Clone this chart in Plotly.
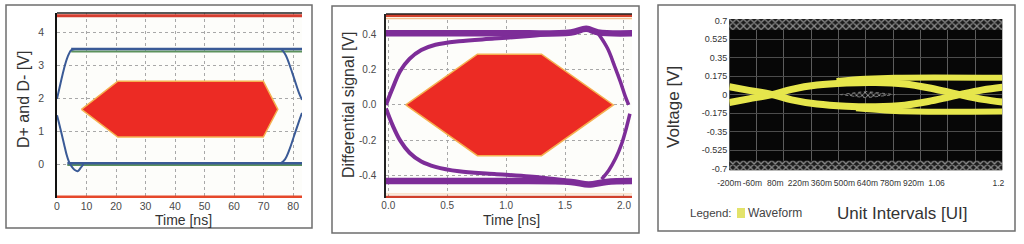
import plotly.graph_objects as go

W, H = 1024, 244

def px_x(p):
    return p / W

def px_y(p):
    return 1 - p / H

# ---------------- Panel 1 data (USB full-speed style eye) ----------------
p1_xticks = [0, 10, 20, 30, 40, 50, 60, 70, 80]
p1_yticks = [0, 1, 2, 3, 4]
p1_mask_x = [8.3, 20.6, 69.9, 74.8, 69.9, 20.6, 8.3]
p1_mask_y = [1.66, 2.51, 2.51, 1.66, 0.82, 0.82, 1.66]
p1_limit_top = 4.5
p1_limit_bottom = -1.0
p1_hi_x = [4.8, 83]
p1_hi_blue = [3.49, 3.49]
p1_hi_green = [3.41, 3.41]
p1_lo_x = [3.5, 83]
p1_lo_blue = [0.02, 0.02]
p1_lo_green = [-0.03, -0.03]
p1_riseL_x = [0, 1.2, 2.4, 3.6, 4.8, 6.0]
p1_riseL_y = [1.98, 2.45, 2.9, 3.25, 3.45, 3.49]
p1_fallL_x = [0, 0.8, 1.6, 2.4, 3.2, 4.0, 5.0, 6.0, 7.0, 8.0, 9.0]
p1_fallL_y = [1.48, 1.2, 0.9, 0.6, 0.3, 0.08, -0.08, -0.18, -0.22, -0.12, 0.0]
p1_fallR_x = [76.0, 77.5, 79.0, 80.5, 82.0, 83.0]
p1_fallR_y = [3.49, 3.3, 2.95, 2.55, 2.15, 1.95]
p1_riseR_x = [75.8, 77.3, 78.8, 80.3, 81.8, 83.0]
p1_riseR_y = [0.02, 0.15, 0.45, 0.85, 1.25, 1.55]

# ---------------- Panel 2 data (differential eye) ----------------
p2_xticks = [0.0, 0.5, 1.0, 1.5, 2.0]
p2_xtext = ["0.0", "0.5", "1.0", "1.5", "2.0"]
p2_yticks = [-0.4, -0.2, 0.0, 0.2, 0.4]
p2_ytext = ["-0.4", "-0.2", "0.0", "0.2", "0.4"]
p2_mask_x = [0.148, 0.756, 1.30, 1.91, 1.30, 0.756, 0.148]
p2_mask_y = [0.0, 0.287, 0.287, 0.0, -0.287, -0.287, 0.0]
p2_limit_top = 0.505
p2_limit_top_inner = 0.488
p2_limit_bottom = -0.52
p2_limit_bottom_inner = -0.503
p2_hi_x = [-0.02, 1.0, 1.55, 1.68, 1.78, 2.07]
p2_hi_y = [0.405, 0.405, 0.41, 0.43, 0.41, 0.405]
p2_lo_x = [-0.02, 1.0, 1.55, 1.7, 1.85, 2.07]
p2_lo_y = [-0.43, -0.43, -0.435, -0.45, -0.435, -0.43]
p2_up_x = [-0.02, 0.04, 0.1, 0.18, 0.28, 0.4, 0.6, 0.9, 1.2, 1.45]
p2_up_y = [0.0, 0.1, 0.19, 0.26, 0.31, 0.34, 0.36, 0.375, 0.39, 0.405]
p2_dn_x = [-0.02, 0.04, 0.1, 0.18, 0.28, 0.4, 0.6, 0.9, 1.2, 1.5]
p2_dn_y = [-0.02, -0.12, -0.2, -0.27, -0.32, -0.35, -0.375, -0.39, -0.405, -0.425]
p2_fallR_x = [1.78, 1.86, 1.92, 1.97, 2.01, 2.04]
p2_fallR_y = [0.405, 0.32, 0.22, 0.13, 0.05, 0.0]
p2_riseR_x = [2.05, 2.02, 1.98, 1.93, 1.87, 1.81]
p2_riseR_y = [-0.05, -0.13, -0.22, -0.3, -0.37, -0.42]
p2_ghost_x = [1.83, 1.9, 1.97]
p2_ghost_y = [0.37, 0.27, 0.15]

# ---------------- Panel 3 data (eye in unit intervals) ----------------
p3_yticks = [0.7, 0.525, 0.35, 0.175, 0.0, -0.175, -0.35, -0.525, -0.7]
p3_ytext = ["0.7", "0.525", "0.35", "0.175", "0", "-0.175", "-0.35", "-0.525", "-0.7"]
p3_xtext = ["-200m", "-60m", "80m", "220m", "360m", "500m", "640m", "780m", "920m", "1.06", "1.2"]
p3_mask_top = [0.612, 0.716]
p3_mask_bottom = [-0.717, -0.627]
p3_center_x = [0.37, 0.5, 0.65, 0.5, 0.37]
p3_center_y = [0.0, 0.03, 0.0, -0.03, 0.0]
p3_a_x = [-0.2, -0.1, 0.02, 0.12, 0.25, 0.4, 0.55, 0.7, 0.82, 0.92, 0.98, 1.1, 1.2]
p3_a_y = [-0.075, -0.04, 0.0, 0.05, 0.09, 0.11, 0.115, 0.1, 0.065, 0.025, 0.0, -0.045, -0.07]
p3_b_x = [-0.2, -0.1, 0.02, 0.12, 0.25, 0.4, 0.55, 0.7, 0.82, 0.92, 0.98, 1.1, 1.2]
p3_b_y = [0.075, 0.04, 0.0, -0.05, -0.09, -0.11, -0.115, -0.1, -0.065, -0.025, 0.0, 0.045, 0.07]
p3_hi_x = [0.35, 0.5, 0.65, 1.2]
p3_hi_y = [0.13, 0.15, 0.16, 0.16]
p3_lo_x = [0.45, 0.6, 0.75, 1.2]
p3_lo_y = [-0.13, -0.15, -0.16, -0.16]

FONT = "Arial, Liberation Sans, sans-serif"
RED = "#ec2b24"
MASK_EDGE = "#f5b050"
BLUE = "#3a5a96"
GREEN = "#5c925c"
PURPLE = "#7d2d98"
YELLOW = "#e6e64c"

fig = go.Figure()

def add(x, y, axes, **kw):
    xa, ya = axes
    fig.add_trace(go.Scatter(x=x, y=y, xaxis=xa, yaxis=ya, mode="lines",
                             hoverinfo="skip", showlegend=False, **kw))

A1, A2, A3 = ("x", "y"), ("x2", "y2"), ("x3", "y3")

# Panel 1
add([0, 83], [p1_limit_top] * 2, A1, line=dict(color="#d63e30", width=3))
add([0, 83], [p1_limit_bottom] * 2, A1, line=dict(color="#e5482a", width=3))
add(p1_mask_x, p1_mask_y, A1, fill="toself", fillcolor=RED, line=dict(color=MASK_EDGE, width=1.5))
add(p1_hi_x, p1_hi_green, A1, line=dict(color=GREEN, width=2))
add(p1_hi_x, p1_hi_blue, A1, line=dict(color=BLUE, width=2.5))
add(p1_lo_x, p1_lo_green, A1, line=dict(color=GREEN, width=2))
add(p1_lo_x, p1_lo_blue, A1, line=dict(color=BLUE, width=2.5))
add(p1_riseL_x, p1_riseL_y, A1, line=dict(color=BLUE, width=2, shape="spline"))
add(p1_fallL_x, p1_fallL_y, A1, line=dict(color=BLUE, width=2, shape="spline"))
add(p1_fallR_x, p1_fallR_y, A1, line=dict(color=BLUE, width=2, shape="spline"))
add(p1_riseR_x, p1_riseR_y, A1, line=dict(color=BLUE, width=2, shape="spline"))

# Panel 2
add([-0.02, 2.07], [p2_limit_top] * 2, A2, line=dict(color="#d0402c", width=3))
add([-0.02, 2.07], [p2_limit_top_inner] * 2, A2, line=dict(color="#f4c090", width=1.5))
add([-0.02, 2.07], [p2_limit_bottom] * 2, A2, line=dict(color="#d0402c", width=2.5))
add([-0.02, 2.07], [p2_limit_bottom_inner] * 2, A2, line=dict(color="#f6d0b0", width=1))
add(p2_mask_x, p2_mask_y, A2, fill="toself", fillcolor=RED, line=dict(color=MASK_EDGE, width=1.5))
add(p2_ghost_x, p2_ghost_y, A2, line=dict(color="#aaaaaa", width=1, dash="dot"))
add(p2_hi_x, p2_hi_y, A2, line=dict(color=PURPLE, width=6.5, shape="spline"))
add(p2_lo_x, p2_lo_y, A2, line=dict(color=PURPLE, width=6.5, shape="spline"))
add(p2_up_x, p2_up_y, A2, line=dict(color=PURPLE, width=4, shape="spline"))
add(p2_dn_x, p2_dn_y, A2, line=dict(color=PURPLE, width=4, shape="spline"))
add(p2_fallR_x, p2_fallR_y, A2, line=dict(color=PURPLE, width=3.5, shape="spline"))
add(p2_riseR_x, p2_riseR_y, A2, line=dict(color=PURPLE, width=3.5, shape="spline"))

# Panel 3
checker = dict(shape="x", fgcolor="#8c8c8c", bgcolor="#1c1c1c", size=5, solidity=0.45)
add([-0.2, 1.2, 1.2, -0.2, -0.2],
    [p3_mask_top[0], p3_mask_top[0], p3_mask_top[1], p3_mask_top[1], p3_mask_top[0]], A3,
    fill="toself", fillpattern=checker, fillcolor="#1c1c1c", line=dict(width=0))
add([-0.2, 1.2, 1.2, -0.2, -0.2],
    [p3_mask_bottom[0], p3_mask_bottom[0], p3_mask_bottom[1], p3_mask_bottom[1], p3_mask_bottom[0]], A3,
    fill="toself", fillpattern=checker, fillcolor="#1c1c1c", line=dict(width=0))
add(p3_center_x, p3_center_y, A3, fill="toself", fillcolor="#111111",
    fillpattern=dict(shape="x", fgcolor="#9a9a9a", bgcolor="#111111", size=4, solidity=0.4),
    line=dict(color="#777777", width=1, dash="dot"))
add(p3_hi_x, p3_hi_y, A3, line=dict(color=YELLOW, width=6, shape="spline"))
add(p3_lo_x, p3_lo_y, A3, line=dict(color=YELLOW, width=6, shape="spline"))
add(p3_a_x, p3_a_y, A3, line=dict(color=YELLOW, width=7, shape="spline"))
add(p3_b_x, p3_b_y, A3, line=dict(color=YELLOW, width=7, shape="spline"))
# empty trace so the label axis is drawn
fig.add_trace(go.Scatter(x=[], y=[], xaxis="x4", yaxis="y3", showlegend=False))

tickfont = dict(family=FONT, size=10.5, color="#4a4a4a")
tickfont2 = dict(family=FONT, size=10, color="#4a4a4a")
grid_dot = dict(showgrid=True, gridcolor="#a8a8a8", griddash="dot", gridwidth=1,
                zeroline=False, automargin=False)

# geometry in pixels
P1 = dict(x0=57, x1=302, y0=13, y1=198)
P2 = dict(x0=386, x1=632, y0=14, y1=198)
P3 = dict(x0=729.3, x1=1002.3, y0=19, y1=170.3)

def dom(P):
    return [px_x(P["x0"]), px_x(P["x1"])], [px_y(P["y1"]), px_y(P["y0"])]

d1x, d1y = dom(P1)
d2x, d2y = dom(P2)
d3x, d3y = dom(P3)

# label positions for panel 3 (labels in the original are compressed to the left)
lab_pos = [-0.2 + 0.1181 * i for i in range(len(p3_xtext) - 1)] + [1.18]

fig.update_layout(
    template="none",
    width=W, height=H, margin=dict(l=0, r=0, t=0, b=0, pad=0, autoexpand=False),
    paper_bgcolor="white", plot_bgcolor="#fdfdfa", showlegend=False,
    font=dict(family=FONT),
    xaxis=dict(domain=d1x, anchor="y", range=[0, 83], tickvals=p1_xticks, ticks="",
               tickfont=tickfont, ticklabelstandoff=0, **grid_dot),
    yaxis=dict(domain=d1y, anchor="x", range=[-1.03, 4.58], tickvals=p1_yticks, ticks="",
               tickfont=tickfont, showline=True, linecolor="#111", linewidth=1.5,
               ticklabelstandoff=9, **grid_dot),
    xaxis2=dict(domain=d2x, anchor="y2", range=[-0.0195, 2.068], tickvals=p2_xticks,
                ticktext=p2_xtext, ticks="", tickfont=tickfont2, ticklabelstandoff=0,
                **grid_dot),
    yaxis2=dict(domain=d2y, anchor="x2", range=[-0.526, 0.514], tickvals=p2_yticks,
                ticktext=p2_ytext, ticks="", tickfont=tickfont2,
                showline=True, linecolor="#222", linewidth=1.5, ticklabelstandoff=6, **grid_dot),
    xaxis3=dict(domain=d3x, anchor="y3", range=[-0.2, 1.2], tick0=-0.2, dtick=0.14,
                showticklabels=False, ticks="", showgrid=True, gridcolor="#5c5c5c",
                gridwidth=1, zeroline=False, automargin=False, showline=False),
    xaxis4=dict(domain=d3x, anchor="y3", overlaying="x3", side="bottom", range=[-0.2, 1.2],
                tickvals=lab_pos, ticktext=p3_xtext, ticks="", showgrid=False, zeroline=False,
                tickangle=0, tickfont=dict(family=FONT, size=8.5, color="#333"),
                ticklabelstandoff=6, automargin=False, showline=False),
    yaxis3=dict(domain=d3y, anchor="x3", range=[-0.717, 0.716], tickvals=p3_yticks,
                ticktext=p3_ytext, ticks="", showgrid=True, gridcolor="#4c4c4c", zeroline=False,
                tickfont=dict(family=FONT, size=9, color="#333"), ticklabelstandoff=1,
                automargin=False, showline=False),
)

shapes = []
# panel boxes
for (x0, y0, x1, y1) in [(6, 5, 312, 228), (332, 6, 639, 233), (658, 5, 1015, 231)]:
    shapes.append(dict(type="rect", xref="paper", yref="paper",
                       x0=px_x(x0), x1=px_x(x1), y0=px_y(y1), y1=px_y(y0),
                       line=dict(color="#6e6e6e", width=1.5), fillcolor="rgba(0,0,0,0)",
                       layer="below"))
# top frames of panel 1 and 2
for xr, yr in [("x domain", "y domain"), ("x2 domain", "y2 domain")]:
    shapes.append(dict(type="line", xref=xr, yref=yr, x0=0, x1=1, y0=1, y1=1,
                       line=dict(color="#222", width=1.5)))
# black plot background panel 3
shapes.append(dict(type="rect", xref="x3 domain", yref="y3 domain", x0=0, x1=1, y0=0, y1=1,
                   fillcolor="#070707", line=dict(width=0), layer="below"))
# legend swatch
shapes.append(dict(type="rect", xref="paper", yref="paper",
                   x0=px_x(737), x1=px_x(745), y0=px_y(218), y1=px_y(208),
                   fillcolor="#e3e36a", line=dict(width=0)))
fig.update_layout(shapes=shapes)

def ann(text, x, y, size, angle=0, xanchor="center", color="#333"):
    return dict(text=text, x=px_x(x), y=px_y(y), xref="paper", yref="paper",
                showarrow=False, textangle=angle, xanchor=xanchor, yanchor="middle",
                font=dict(family=FONT, size=size, color=color))

fig.update_layout(annotations=[
    ann("D+ and D- [V]", 23, 100, 16, -90),
    ann("Time [ns]", 183, 219.5, 14),
    ann("Differential signal [V]", 348, 105, 16, -90),
    ann("Time [ns]", 511, 219.5, 14),
    ann("Voltage [V]", 673, 107, 17, -90),
    ann("Unit Intervals [UI]", 902, 213, 17),
    ann("Legend:", 688, 213, 11.5, xanchor="left", color="#444"),
    ann("Waveform", 746, 213, 12, xanchor="left", color="#444"),
])

fig.write_html("out.html")
